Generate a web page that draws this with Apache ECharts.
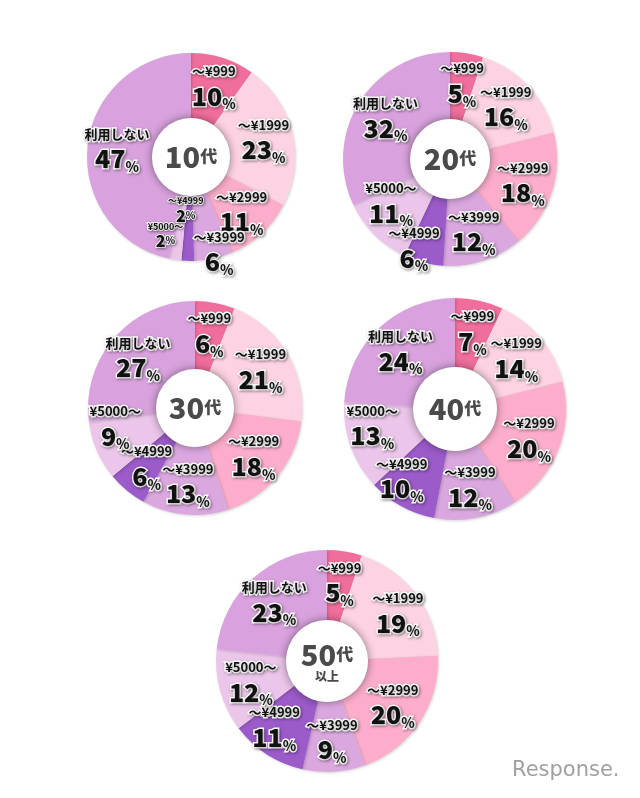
<!DOCTYPE html>
<html><head><meta charset="utf-8">
<script src="https://cdn.jsdelivr.net/npm/echarts@6/dist/echarts.min.js"></script>
<style>html,body{margin:0;padding:0;background:#fff}#c{width:640px;height:798px}</style>
</head><body><div id="c"></div>
<script>
// ---- data ----
const categories = ['～¥999','～¥1999','～¥2999','～¥3999','～¥4999','¥5000～','利用しない'];
const ages = ['10代','20代','30代','40代','50代'];
const ageNotes = ['','','','','以上'];
const values10 = [10,23,11,6,2,2,47];
const values20 = [5,16,18,12,6,11,32];
const values30 = [6,21,18,13,6,9,27];
const values40 = [7,14,20,12,10,13,24];
const values50 = [5,19,20,9,11,12,23];
const allValues = [values10, values20, values30, values40, values50];

// ---- style / layout ----
const colors = ['#f06e9c','#fdd2e2','#fbadcb','#dba7df','#9b5bc9','#ebc5ea','#d9a2de'];
const layout = [
  {c:[191,157], R:104, r:39},
  {c:[450,159], R:107, r:40},
  {c:[195,408], R:107, r:39},
  {c:[455,409], R:111, r:42},
  {c:[327,661], R:111, r:41}
];
const labelNudge = {'0-3':[12,22],'0-4':[-3,-22],'0-5':[-14,4],'1-4':[-17,15],'1-5':[-5,-10],'2-5':[-10,-12],'3-4':[-15,0],'3-5':[-8,-10],'4-4':[-10,0],'4-1':[8,0]};
const FONT = '"Noto Sans CJK JP", sans-serif';
const txt = (size, weight) => ({fontFamily: FONT, fontSize: size, fontWeight: weight, color: '#111',
  textBorderColor: '#fff', textBorderWidth: 3, textShadowColor: 'rgba(0,0,0,0.35)', textShadowBlur: 3, textShadowOffsetX: 1, textShadowOffsetY: 1});

const series = [];
allValues.forEach((vals, i) => {
  const L = layout[i];
  series.push({
    type: 'pie', z: 2,
    center: L.c, radius: [L.r, L.R], startAngle: 90, clockwise: true,
    avoidLabelOverlap: false, silent: true,
    itemStyle: {shadowBlur: 3, shadowColor: 'rgba(0,0,0,0.18)', shadowOffsetX: 1, shadowOffsetY: 1},
    label: {
      show: true, position: 'inside',
      formatter: p => p.value <= 3
        ? '{ns|' + p.name + '}\n{vs|' + p.value + '}{ps|%}'
        : '{n|' + p.name + '}\n{v|' + p.value + '}{p|%}',
      rich: {
        n: Object.assign(txt(13, 'bold'), {lineHeight: 20}),
        v: Object.assign(txt(25, 900), {lineHeight: 30}),
        p: Object.assign(txt(14, 'bold'), {lineHeight: 30, verticalAlign: 'bottom'}),
        ns: Object.assign(txt(9, 'bold'), {lineHeight: 12, textBorderWidth: 2}),
        vs: Object.assign(txt(16, 900), {lineHeight: 17, textBorderWidth: 2}),
        ps: Object.assign(txt(10, 'bold'), {lineHeight: 17, textBorderWidth: 2})
      }
    },
    labelLine: {show: false},
    labelLayout: function (p) {
      const k = i + '-' + p.dataIndex;
      const d = labelNudge[k];
      return d ? {dx: d[0], dy: d[1]} : {};
    },
    data: categories.map((name, j) => ({name, value: vals[j], itemStyle: {color: colors[j]}}))
  });
  series.push({
    type: 'pie', z: 3, silent: true,
    center: L.c, radius: [0, L.r],
    itemStyle: {color: '#fff', shadowBlur: 8, shadowColor: 'rgba(0,0,0,0.45)'},
    label: {
      show: true, position: 'center',
      formatter: () => {
        const a = ages[i];
        let s = '{a|' + a.slice(0, -1) + '}{b|' + a.slice(-1) + '}';
        if (ageNotes[i]) s += '\n{c|' + ageNotes[i] + '}';
        return s;
      },
      rich: {
        a: {fontFamily: FONT, fontSize: 29, fontWeight: 900, color: '#4a4a4a', lineHeight: 30},
        b: {fontFamily: FONT, fontSize: 17, fontWeight: 900, color: '#4a4a4a', lineHeight: 30},
        c: {fontFamily: FONT, fontSize: 12, fontWeight: 900, color: '#4a4a4a', lineHeight: 12}
      }
    },
    labelLine: {show: false},
    data: [{name: ages[i], value: 1}]
  });
});

const chart = echarts.init(document.getElementById('c'), null, {renderer: 'canvas'});
chart.setOption({
  backgroundColor: '#fff',
  animation: false,
  series,
  graphic: [{
    type: 'text', left: 512, top: 760,
    style: {text: 'Response.', fontFamily: '"DejaVu Sans", sans-serif', fontSize: 21, fill: '#a0a0a0'}
  }]
});
</script></body></html>
